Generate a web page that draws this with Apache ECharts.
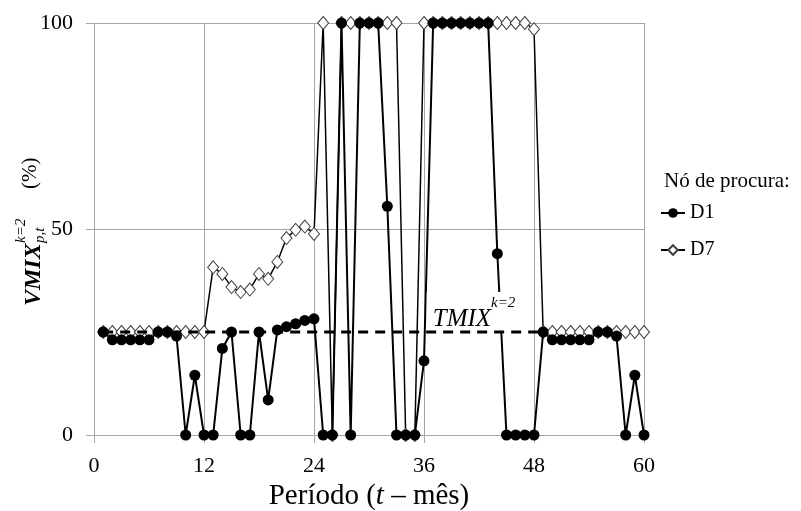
<!DOCTYPE html>
<html><head><meta charset="utf-8">
<script src="https://cdn.jsdelivr.net/npm/echarts/dist/echarts.min.js"></script>
<style>html,body{margin:0;padding:0;background:#fff}#c{width:801px;height:511px}</style>
</head><body><div id="c"></div>
<script>
// ---- data ----
const periods = [1,2,3,4,5,6,7,8,9,10,11,12,13,14,15,16,17,18,19,20,21,22,23,24,25,26,27,28,29,30,31,32,33,34,35,36,37,38,39,40,41,42,43,44,45,46,47,48,49,50,51,52,53,54,55,56,57,58,59,60];
const d1 = [25,23.1,23.1,23.1,23.1,23.1,25,25,24,0,14.5,0,0,21,25,0,0,25,8.5,25.5,26.3,27,27.8,28.2,0,0,100,0,100,100,100,55.5,0,0,0,18,100,100,100,100,100,100,100,44,0,0,0,0,25,23.1,23.1,23.1,23.1,23.1,25,25,24,0,14.5,0];
const d7 = [25,25,25,25,25,25,25,25,25,25,25,25,40.7,39.1,35.9,34.7,35.3,39.1,37.9,42,47.8,49.8,50.6,48.8,100,0,100,100,100,100,100,100,100,0,0,100,100,100,100,100,100,100,100,100,100,100,100,98.5,25,25,25,25,25,25,25,25,25,25,25,25];
const tmixPeriods = [1, 49];
const tmixValues = [25, 25];
const xTicks = [0, 12, 24, 36, 48, 60];
const yTicks = [0, 50, 100];
const seriesNames = ['D1', 'D7'];
const legendTitle = 'Nó de procura:';

const SERIF = '"Liberation Serif", "DejaVu Serif", serif';
const GRID = '#a6a6a6';
const pairs = (xs, ys) => xs.map((x, i) => [x, ys[i]]);

const chart = echarts.init(document.getElementById('c'), null, {renderer: 'canvas'});
chart.setOption({
  animation: false,
  backgroundColor: '#fff',
  grid: {left: 94, right: 157, top: 23, bottom: 76, containLabel: false, outerBoundsMode: 'none'},
  title: {
    text: legendTitle, left: 659, top: 166,
    textStyle: {fontFamily: SERIF, fontSize: 21, fontWeight: 'normal', color: '#000'}
  },
  legend: {
    orient: 'vertical', left: 655, top: 198,
    itemWidth: 24, itemHeight: 12, itemGap: 17,
    data: seriesNames,
    textStyle: {fontFamily: SERIF, fontSize: 20, color: '#000'}
  },
  xAxis: {
    type: 'value',
    min: xTicks[0], max: xTicks[xTicks.length - 1], interval: xTicks[1] - xTicks[0],
    axisLine: {show: true, lineStyle: {color: GRID, width: 1}},
    axisTick: {show: true, length: 8, lineStyle: {color: GRID}},
    axisLabel: {margin: 20, fontFamily: SERIF, fontSize: 22, color: '#000'},
    splitLine: {show: true, lineStyle: {color: GRID, width: 1}},
    name: '{a|Período (}{b|t}{a| – mês)}',
    nameLocation: 'middle', nameGap: 44,
    nameTextStyle: {
      rich: {
        a: {fontFamily: SERIF, fontSize: 29, color: '#000'},
        b: {fontFamily: SERIF, fontSize: 29, fontStyle: 'italic', color: '#000'}
      }
    }
  },
  yAxis: {
    type: 'value',
    min: yTicks[0], max: yTicks[yTicks.length - 1], interval: yTicks[1] - yTicks[0],
    axisLine: {show: true, lineStyle: {color: GRID, width: 1}},
    axisTick: {show: true, length: 8, lineStyle: {color: GRID}},
    axisLabel: {margin: 21, fontFamily: SERIF, fontSize: 22, color: '#000'},
    splitLine: {show: true, lineStyle: {color: GRID, width: 1}}
  },
  graphic: [{
    type: 'group', x: 41, y: 306, rotation: Math.PI / 2,
    children: [
      {type: 'text', x: 0, y: 5, style: {text: 'VMIX', font: 'italic bold 24px ' + SERIF, fill: '#000', align: 'left', verticalAlign: 'bottom', textAlign: 'left', textVerticalAlign: 'bottom'}},
      {type: 'text', x: 63, y: -12, style: {text: 'k=2', font: 'italic 15px ' + SERIF, fill: '#000', align: 'left', verticalAlign: 'bottom', textAlign: 'left', textVerticalAlign: 'bottom'}},
      {type: 'text', x: 63, y: 7, style: {text: 'p,t', font: 'italic 15px ' + SERIF, fill: '#000', align: 'left', verticalAlign: 'bottom', textAlign: 'left', textVerticalAlign: 'bottom'}},
      {type: 'text', x: 117, y: 0, style: {text: '(%)', font: '21px ' + SERIF, fill: '#000', align: 'left', verticalAlign: 'bottom', textAlign: 'left', textVerticalAlign: 'bottom'}}
    ]
  }],
  series: [
    {
      name: 'D7', type: 'line', z: 2,
      data: pairs(periods, d7),
      symbol: 'diamond', symbolSize: [11, 13],
      itemStyle: {color: '#fff', borderColor: '#404040', borderWidth: 1},
      lineStyle: {color: '#000', width: 1.5}
    },
    {
      name: 'D1', type: 'line', z: 3,
      data: pairs(periods, d1),
      symbol: 'circle', symbolSize: 11,
      itemStyle: {color: '#000'},
      lineStyle: {color: '#000', width: 2}
    },
    {
      name: 'TMIX', type: 'line', z: 5,
      data: pairs(tmixPeriods, tmixValues),
      symbol: 'none',
      lineStyle: {color: '#000', width: 3, type: [10, 7]},
      markPoint: {
        silent: true,
        symbol: 'circle', symbolSize: 0,
        data: [{coord: [36.3, 25]}],
        label: {
          show: true, position: [0, 0], align: 'left', verticalAlign: 'bottom',
          backgroundColor: '#fff', padding: [4, 4, 0, 6],
          formatter: '{a|TMIX}{b|k=2}',
          rich: {
            a: {fontFamily: SERIF, fontSize: 25, fontStyle: 'italic', color: '#000', lineHeight: 36, verticalAlign: 'bottom'},
            b: {fontFamily: SERIF, fontSize: 15, fontStyle: 'italic', color: '#000', verticalAlign: 'top'}
          }
        }
      }
    }
  ]
});
</script></body></html>
